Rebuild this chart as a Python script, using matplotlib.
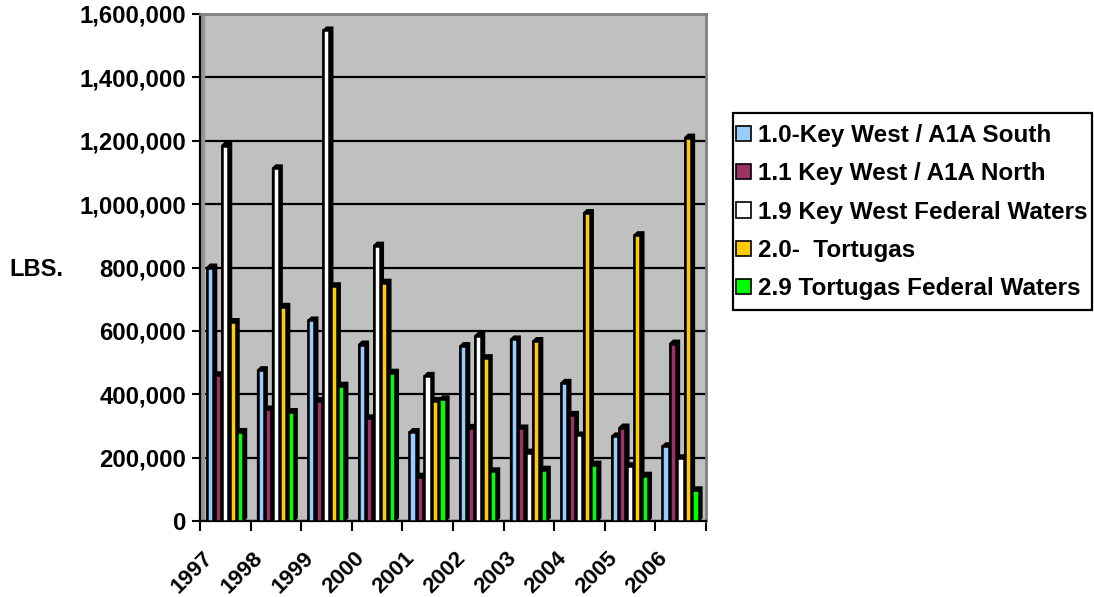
import matplotlib.pyplot as plt
import numpy as np
from matplotlib.patches import Polygon, Patch, Rectangle

plt.rcParams['font.family'] = ['Liberation Sans', 'DejaVu Sans']
plt.rcParams['font.weight'] = 'bold'

# 연도 (카테고리)
years = ['1997', '1998', '1999', '2000', '2001', '2002', '2003', '2004', '2005', '2006']

# 구역별 어획량 (LBS.)
key_west_south = [800000, 476000, 633000, 557000, 281000, 552000, 573000, 436000, 267000, 236000]
key_west_north = [460000, 352000, 379000, 324000, 140000, 294000, 292000, 335000, 295000, 560000]
key_west_federal = [1185000, 1113000, 1548000, 869000, 458000, 584000, 216000, 270000, 173000, 198000]
tortugas = [628000, 676000, 741000, 752000, 379000, 514000, 568000, 972000, 902000, 1210000]
tortugas_federal = [281000, 344000, 427000, 468000, 384000, 157000, 162000, 178000, 143000, 97000]

series_names = ['1.0-Key West / A1A South', '1.1 Key West / A1A North',
                '1.9 Key West Federal Waters', '2.0-  Tortugas',
                '2.9 Tortugas Federal Waters']
series = [key_west_south, key_west_north, key_west_federal, tortugas, tortugas_federal]
colors = ['#99CCFF', '#993366', '#FFFFFF', '#FFCC00', '#00FF00']

y_ticks = [0, 200000, 400000, 600000, 800000, 1000000, 1200000, 1400000, 1600000]

fig = plt.figure(figsize=(10.94, 5.97), dpi=100)
ax = fig.add_axes([200 / 1094, 76 / 597, 506 / 1094, 507 / 597])
ax.set_facecolor('#C0C0C0')

x = np.arange(len(years))
w = 0.12        # 막대 앞면 폭
pitch = 0.148   # 막대 간격
start = 0.14
dx, dy = 0.065, 10000  # 3D 깊이 효과

for s, (vals, c) in enumerate(zip(series, colors)):
    xs = x + start + s * pitch
    for xi, v in zip(xs, vals):
        poly = Polygon([(xi, 0), (xi, v), (xi + dx, v + dy), (xi + w + dx, v + dy),
                        (xi + w + dx, dy), (xi + w, 0)],
                       closed=True, facecolor='black', edgecolor='black',
                       lw=1.2, zorder=3 + 2 * s)
        ax.add_patch(poly)
    ax.bar(xs, vals, width=w, align='edge', color=c, edgecolor='black',
           linewidth=1.8, zorder=4 + 2 * s)

# 왼쪽 벽
ax.axvspan(0, 0.08, color='#969696', zorder=1)

ax.set_xlim(0, len(years))
ax.set_ylim(0, 1600000)
ax.set_yticks(y_ticks)
ax.set_yticklabels([f'{t:,}' for t in y_ticks], fontsize=17.2, fontweight='bold')
ax.yaxis.grid(True, color='black', linewidth=1.6, zorder=2)
ax.set_axisbelow(True)

ax.set_xticks(np.arange(len(years) + 1))
ax.set_xticklabels([])
ax.set_xticks(x + 0.04, minor=True)
ax.set_xticklabels(years, minor=True, rotation=45, ha='right', va='top',
                   rotation_mode='anchor', fontsize=16, fontweight='bold')
ax.tick_params(axis='x', which='minor', length=0, pad=19)
ax.tick_params(axis='x', which='major', length=7, width=1.5, direction='out')
ax.tick_params(axis='y', length=6, width=1.5, pad=4)

for side in ['left', 'bottom']:
    ax.spines[side].set_color('black')
    ax.spines[side].set_linewidth(1.6)
for side in ['top', 'right']:
    ax.spines[side].set_color('#808080')
    ax.spines[side].set_linewidth(2)

fig.text(36 / 1094, 1 - 269 / 597, 'LBS.', fontsize=17, fontweight='bold',
         ha='center', va='center')

# 범례 테두리
fig.patches.append(Rectangle((733 / 1094, 1 - 310 / 597), 359 / 1094, 197 / 597,
                             transform=fig.transFigure, facecolor='white',
                             edgecolor='black', linewidth=1.6, zorder=0))

handles = [Patch(facecolor=c, edgecolor='black', linewidth=1.2) for c in colors]
leg = fig.legend(handles, series_names, loc='upper left',
                 bbox_to_anchor=(736 / 1094, 1 - 124 / 597),
                 prop={'size': 17.5, 'weight': 'bold'},
                 handlelength=0.6, handleheight=0.6, handletextpad=0.3,
                 labelspacing=0.63, borderpad=0, borderaxespad=0,
                 frameon=False)

fig.savefig('out.png', dpi=100)
